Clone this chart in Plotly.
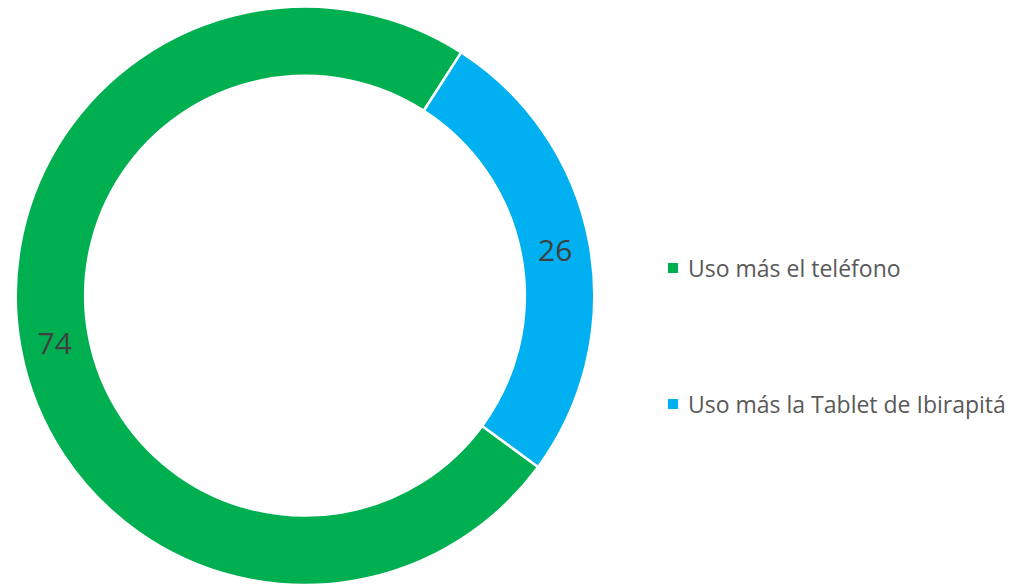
import plotly.graph_objects as go

labels = ["Uso más el teléfono", "Uso más la Tablet de Ibirapitá"]
values = [74, 26]
colors = ["#00B050", "#00B0F0"]

W, H = 1010, 585
cx, cy, R = 305, 296, 289.5

fig = go.Figure()
fig.add_trace(go.Pie(
    labels=labels,
    values=values,
    hole=0.76,
    sort=False,
    direction="clockwise",
    rotation=126.3,
    marker=dict(colors=colors, line=dict(color="white", width=2.5)),
    textinfo="value",
    textposition="inside",
    insidetextorientation="horizontal",
    textfont=dict(family="Open Sans", size=30, color="#404040"),
    domain=dict(x=[(cx - R) / W, (cx + R) / W], y=[max(0, 1 - (cy + R) / H), 1 - (cy - R) / H]),
    showlegend=False,
    hoverinfo="label+value",
))

# legend drawn as squares + text annotations
leg_y = [268, 404]
for lab, col, yy in zip(labels, colors, leg_y):
    fig.add_shape(type="rect", xref="paper", yref="paper",
                  x0=668 / W, x1=678 / W, y0=1 - (yy + 5) / H, y1=1 - (yy - 5) / H,
                  fillcolor=col, line=dict(width=0))
    fig.add_annotation(xref="paper", yref="paper", x=686 / W, y=1 - yy / H,
                       text=lab, showarrow=False, xanchor="left", yanchor="middle",
                       font=dict(family="Open Sans", size=23, color="#595959"))

fig.update_layout(
    width=W, height=H,
    margin=dict(l=0, r=0, t=0, b=0),
    paper_bgcolor="white", plot_bgcolor="white",
)
fig.write_html(
    "out.html",
    config={"displayModeBar": False},
    post_script="document.body.style.margin='0';document.body.style.overflow='hidden';",
)
